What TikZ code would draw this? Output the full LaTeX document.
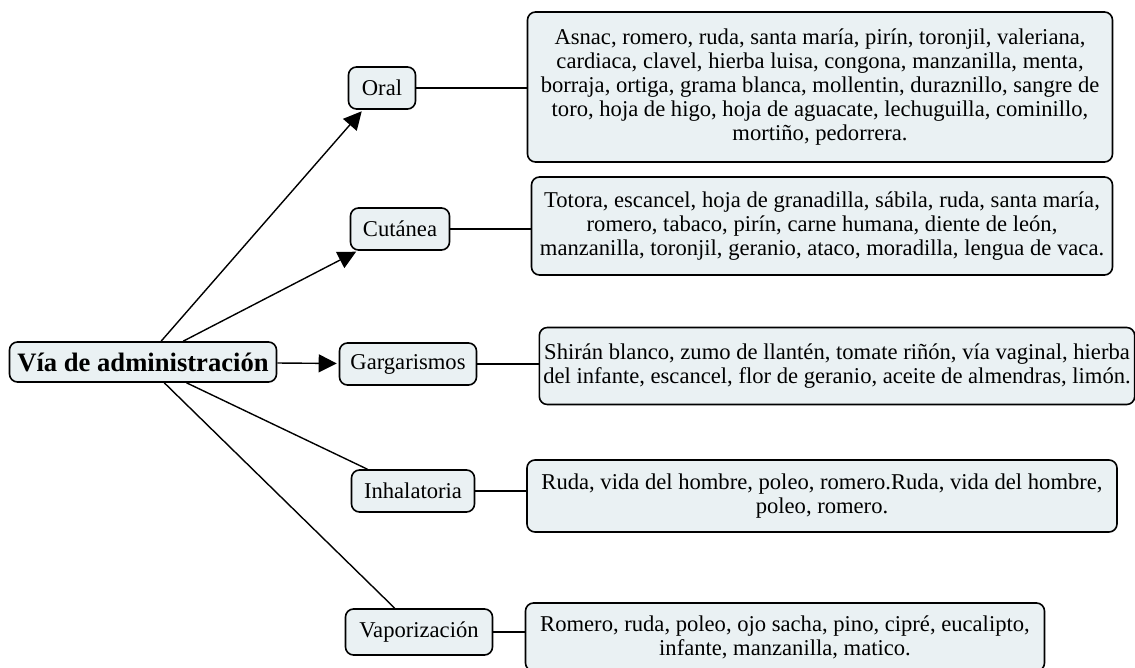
\documentclass[tikz,border=0pt]{standalone}
\usepackage{fontspec}
\setmainfont{Liberation Serif}
\usetikzlibrary{arrows.meta}
\definecolor{boxfill}{HTML}{EAF1F3}
\begin{document}
\begin{tikzpicture}[x=0.5pt,y=-0.5pt,
    box/.style={draw, line width=0.8pt, rounded corners=4pt, fill=boxfill, align=center,
      inner sep=0pt, minimum height=21pt, font=\fontsize{11.3}{12.1}\selectfont},
    link/.style={line width=0.7pt},
    arr/.style={link, shorten >=1pt, -{Triangle[length=9pt,width=9pt]}}]
  \useasboundingbox (0,0) rectangle (1135,668);

  \node [box, minimum width=133.5pt, minimum height=20pt, font=\bfseries\fontsize{13.3}{16}\selectfont] (via) at (143,362) {Vía de administración};

  \node [box, minimum width=33.5pt] (oral) at (382,88) {Oral};
  \node [box, minimum width=49.5pt] (cut) at (400,229) {Cutánea};
  \node [box, minimum width=68.5pt] (garg) at (408,364) {Gargarismos};
  \node [box, minimum width=61.5pt] (inha) at (413,491) {Inhalatoria};
  \node [box, minimum width=73.5pt, minimum height=23pt] (vapo) at (419,632) {Vaporización};

  \node [box, minimum width=292.5pt, minimum height=75pt] (oralL) at (820,87)
    {Asnac, romero, ruda, santa maría, pirín, toronjil, valeriana,\\
     cardiaca, clavel, hierba luisa, congona, manzanilla, menta,\\
     borraja, ortiga, grama blanca, mollentin, duraznillo, sangre de\\
     toro, hoja de higo, hoja de aguacate, lechuguilla, cominillo,\\
     mortiño, pedorrera.};
  \node [box, minimum width=290.5pt, minimum height=49pt] (cutL) at (822,226)
    {Totora, escancel, hoja de granadilla, sábila, ruda, santa maría,\\
     romero, tabaco, pirín, carne humana, diente de león,\\
     manzanilla, toronjil, geranio, ataco, moradilla, lengua de vaca.};
  \node [box, minimum width=296pt, minimum height=38.5pt, inner xsep=2pt] (gargL) at (837,366)
    {Shirán blanco, zumo de llantén, tomate riñón, vía vaginal, hierba\\
     del infante, escancel, flor de geranio, aceite de almendras, limón.};
  \node [box, minimum width=295pt, minimum height=36pt] (inhaL) at (822,496)
    {Ruda, vida del hombre, poleo, romero.Ruda, vida del hombre,\\
     poleo, romero.};
  \node [box, minimum width=259.5pt, minimum height=34pt] (vapoL) at (785,637)
    {Romero, ruda, poleo, ojo sacha, pino, cipré, eucalipto,\\
     infante, manzanilla, matico.};

  \draw [arr] (via) -- (oral);
  \draw [arr] (via) -- (cut);
  \draw [arr] (via) -- (garg);
  \draw [link] (via) -- (inha);
  \draw [link] (via) -- (vapo);

  \draw [link] (oral.east) -- (oralL.west |- oral.east);
  \draw [link] (cut.east) -- (cutL.west |- cut.east);
  \draw [link] (garg.east) -- (gargL.west |- garg.east);
  \draw [link] (inha.east) -- (inhaL.west |- inha.east);
  \draw [link] (vapo.east) -- (vapoL.west |- vapo.east);
\end{tikzpicture}
\end{document}
